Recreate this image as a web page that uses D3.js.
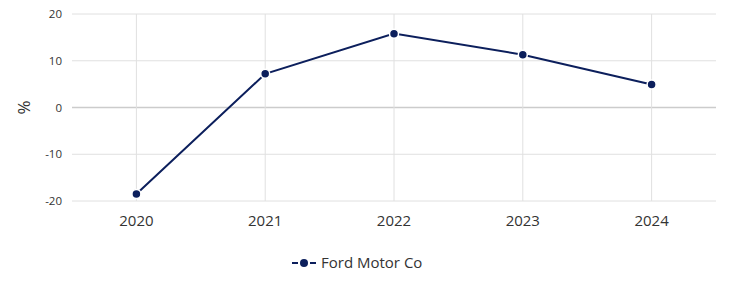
<!DOCTYPE html>
<html lang="en">

<head>
  <meta charset="UTF-8">
  <title>Ford Motor Co</title>
  <style>
    body { margin: 0; background: #fff; }
    text { font-family: "Open Sans", "Noto Sans", sans-serif; fill: #333; }
  </style>
</head>

<body>
  <script src="https://cdnjs.cloudflare.com/ajax/libs/d3/7.8.5/d3.min.js"></script>
  <script>
    let width = 731
    let height = 300

    let years = ['2020', '2021', '2022', '2023', '2024']
    let values = [-18.5, 7.2, 15.8, 11.3, 4.9]
    let yTicks = [-20, -10, 0, 10, 20]
    let seriesName = 'Ford Motor Co'
    let color = '#0c1f5c'

    let margin = { left: 72, right: 15, top: 14, bottom: 99 }

    let svg = d3.select('body')
      .append('svg')
      .attr('width', width)
      .attr('height', height)

    // x: one band per year, point at band centre
    let xScale = d3.scaleBand()
      .domain(years)
      .range([margin.left, width - margin.right])

    let yScale = d3.scaleLinear()
      .domain([-20, 20])
      .range([height - margin.bottom, margin.top])

    let cx = d => xScale(d) + xScale.bandwidth() / 2

    // horizontal grid
    svg.append('g')
      .selectAll('line')
      .data(yTicks)
      .enter()
      .append('line')
      .attr('x1', margin.left)
      .attr('x2', width - margin.right)
      .attr('y1', d => yScale(d))
      .attr('y2', d => yScale(d))
      .attr('stroke', d => d === 0 ? '#cccccc' : '#e0e0e0')
      .attr('stroke-width', d => d === 0 ? 1.6 : 1)

    // vertical grid
    svg.append('g')
      .selectAll('line')
      .data(years)
      .enter()
      .append('line')
      .attr('x1', cx)
      .attr('x2', cx)
      .attr('y1', yScale(20))
      .attr('y2', yScale(-20))
      .attr('stroke', '#e0e0e0')

    // y axis labels (plain hyphen minus, as in the source)
    let yAxis = d3.axisLeft(yScale).tickValues(yTicks).tickFormat(d => String(d)).tickSize(0).tickPadding(10)
    svg.append('g')
      .attr('transform', `translate(${margin.left},0)`)
      .call(yAxis)
      .call(g => g.select('.domain').remove())
      .selectAll('text')
      .style('font-size', '11.5px')
      .attr('fill', '#333')

    // x axis labels
    let xAxis = d3.axisBottom(xScale).tickSize(0).tickPadding(14)
    svg.append('g')
      .attr('transform', `translate(0,${yScale(-20)})`)
      .call(xAxis)
      .call(g => g.select('.domain').remove())
      .selectAll('text')
      .style('font-size', '15px')
      .attr('fill', '#222')

    // y title
    svg.append('text')
      .attr('transform', `translate(30,${yScale(0)}) rotate(-90)`)
      .attr('text-anchor', 'middle')
      .style('font-size', '17px')
      .text('%')

    // line
    let line = d3.line()
      .x((d, i) => cx(years[i]))
      .y(d => yScale(d))

    svg.append('path')
      .datum(values)
      .attr('d', line)
      .attr('fill', 'none')
      .attr('stroke', color)
      .attr('stroke-width', 2)

    svg.append('g')
      .selectAll('circle')
      .data(values)
      .enter()
      .append('circle')
      .attr('cx', (d, i) => cx(years[i]))
      .attr('cy', d => yScale(d))
      .attr('r', 4.5)
      .attr('fill', color)
      .attr('stroke', '#fff')
      .attr('stroke-width', 1.5)

    // legend
    let legend = svg.append('g')
      .attr('transform', 'translate(292,263)')
    legend.append('line')
      .attr('x1', 0).attr('x2', 24)
      .attr('stroke', color)
      .attr('stroke-width', 2)
      .attr('stroke-dasharray', '6,12')
    legend.append('circle')
      .attr('cx', 12)
      .attr('r', 4)
      .attr('fill', color)
    legend.append('text')
      .attr('x', 29)
      .attr('dy', '0.35em')
      .style('font-size', '15px')
      .attr('fill', '#222')
      .text(seriesName)
  </script>
</body>

</html>
